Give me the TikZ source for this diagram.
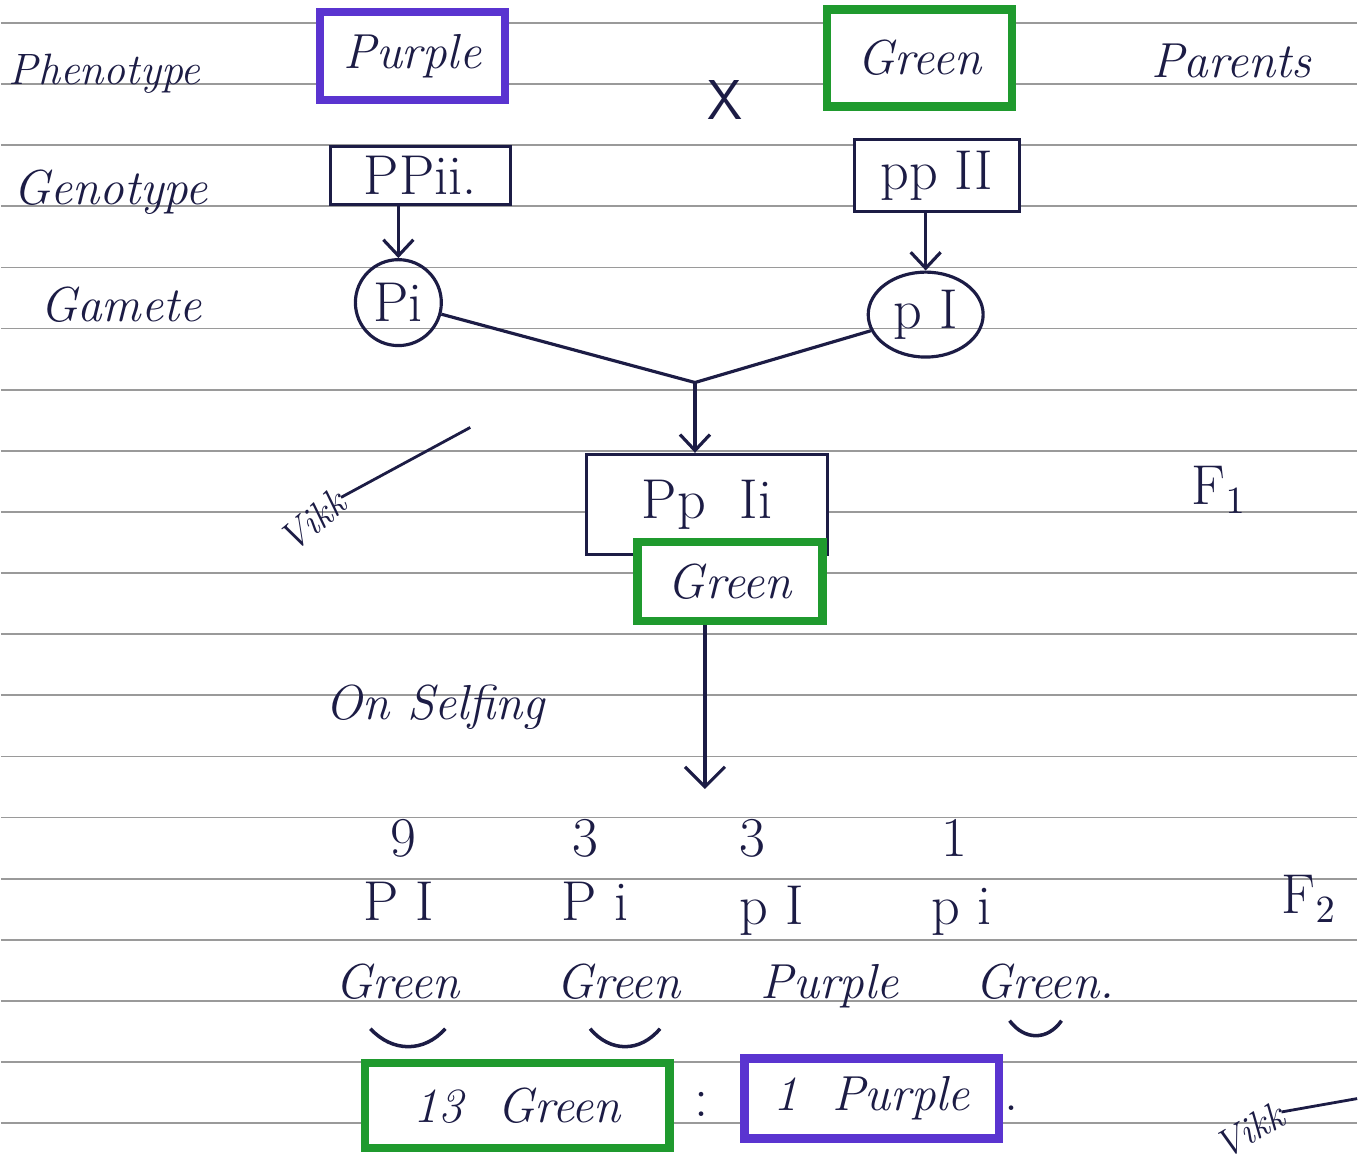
\documentclass[tikz,border=0pt]{standalone}
\usepackage{tikz}
\usetikzlibrary{arrows.meta,positioning,shapes.geometric,calc}
\usepackage{xcolor}
\definecolor{ink}{HTML}{1C1C45}
\definecolor{penpurple}{HTML}{5A34D0}
\definecolor{pengreen}{HTML}{1F9A2E}
\definecolor{rulegrey}{HTML}{9A9A9A}

\begin{document}
\begin{tikzpicture}[x=0.01cm, y=-0.01cm, every node/.style={text=ink}]
\tikzset{word/.style={anchor=base, font=\fontsize{14}{16}\selectfont\itshape}}
\tikzset{allele/.style={anchor=base, font=\fontsize{16}{18}\selectfont}}
\tikzset{colbox/.style={line width=2.4pt, fill=white, font=\fontsize{14}{16}\selectfont\itshape, inner sep=0pt}}
\tikzset{genbox/.style={draw=ink, line width=0.9pt, fill=white, font=\fontsize{16}{18}\selectfont, inner sep=0pt}}
\tikzset{arrow/.style={-{Straight Barb[length=1.6mm,width=3mm]}, draw=ink, line width=0.9pt}}
\tikzset{smile/.style={draw=ink, line width=1pt}}
\tikzset{sign/.style={inner sep=0pt, font=\fontsize{11}{12}\selectfont\itshape}}
% ruled page
\fill[white] (0,0) rectangle (1358,1169);
\foreach \k in {0,...,18}
  \draw[rulegrey, line width=0.5pt] (0,{23+61.2*\k}) -- (1358,{23+61.2*\k});
\useasboundingbox (0,0) rectangle (1358,1169);

% row labels
\node[word, font=\fontsize{12.5}{14}\selectfont\itshape] (phen) at (104,85) {Phenotype};
\node[word] (geno) at (110,205) {Genotype};
\node[word] (gam) at (120,322) {Gamete};
\node[word] (par) at (1232,78) {Parents};

% parents
\node[colbox, draw=penpurple, minimum width=1.85cm, minimum height=0.88cm] (pur) at (412,56) {Purple};
\node[colbox, draw=pengreen, minimum width=1.85cm, minimum height=0.97cm] (grn) at (920,58) {Green};
\node[allele, font=\fontsize{16}{18}\selectfont\sffamily] (cross) at (725,120) {X};
\node[genbox, minimum width=1.8cm, minimum height=0.58cm] (PPii) at (420,176) {PPii.};
\node[genbox, minimum width=1.65cm, minimum height=0.72cm] (ppII) at (937,176) {pp II};

% gametes
\node[circle, draw=ink, line width=0.9pt, minimum size=0.86cm, inner sep=0pt, font=\fontsize{16}{18}\selectfont] (Pi) at (398,303) {Pi};
\node[ellipse, draw=ink, line width=0.9pt, minimum width=1.15cm, minimum height=0.85cm, inner sep=0pt, font=\fontsize{16}{18}\selectfont] (pI) at (926,315) {p I};
\draw[arrow] (PPii.south -| Pi) -- (Pi);
\draw[arrow] (ppII.south -| pI) -- (pI);
\coordinate (meet) at (695,383);
\draw[ink, line width=0.9pt] (Pi) -- (meet);
\draw[ink, line width=0.9pt] (pI) -- (meet);

% F1
\node[genbox, minimum width=2.41cm, minimum height=1.0cm] (PpIi) at (707,505) {Pp~~Ii};
\node[colbox, draw=pengreen, minimum width=1.85cm, minimum height=0.79cm] (f1g) at (730,582) {Green};
\draw[arrow] (meet) -- (meet |- PpIi.north);
\node[allele] (F1) at (1220,505) {F$_{1}$};
\node[sign, rotate=40] (vik1) at (312,522) {Vikk};
\coordinate (tick1) at (470,428);
\draw[ink, line width=0.8pt] (vik1.east) -- (tick1);

% selfing
\node[word] (self) at (435,720) {On Selfing};
\coordinate (f2top) at (705,790);
\draw[arrow, -{Straight Barb[length=2mm,width=4mm]}] (f1g.south -| f2top) -- (f2top);

% F2
\node[allele] (n1) at (403,858) {9};
\node[allele] (n2) at (585,858) {3};
\node[allele] (n3) at (752,858) {3};
\node[allele] (n4) at (955,858) {1};
\node[allele] (g1) at (398,922) {P I};
\node[allele] (g2) at (595,922) {P i};
\node[allele] (g3) at (772,926) {p I};
\node[allele] (g4) at (962,926) {p i};
\node[word] (ph1) at (397,1000) {Green};
\node[word] (ph2) at (618,1000) {Green};
\node[word] (ph3) at (830,1000) {Purple};
\node[word] (ph4) at (1045,1000) {Green.};
\node[allele] (F2) at (1310,915) {F$_{2}$};
\draw[smile] (370,1030) .. controls (392,1054) and (424,1054) .. (445,1030);
\draw[smile] (590,1030) .. controls (610,1054) and (640,1054) .. (660,1030);
\draw[smile] (1010,1022) .. controls (1025,1042) and (1048,1042) .. (1062,1022);

% ratio
\node[colbox, draw=pengreen, minimum width=3.05cm, minimum height=0.85cm] (r1) at (517,1107) {13~ Green};
\node[allele] (colon) at (702,1118) {:};
\node[colbox, draw=penpurple, minimum width=2.55cm, minimum height=0.80cm] (r2) at (872,1100) {1~ Purple};
\node[allele] (stop) at (1012,1112) {.};
\node[sign, rotate=30] (vik2) at (1250,1132) {Vikk};
\coordinate (tick2) at (1358,1100);
\draw[ink, line width=0.8pt] (vik2.east) -- (tick2);
\end{tikzpicture}
\end{document}
